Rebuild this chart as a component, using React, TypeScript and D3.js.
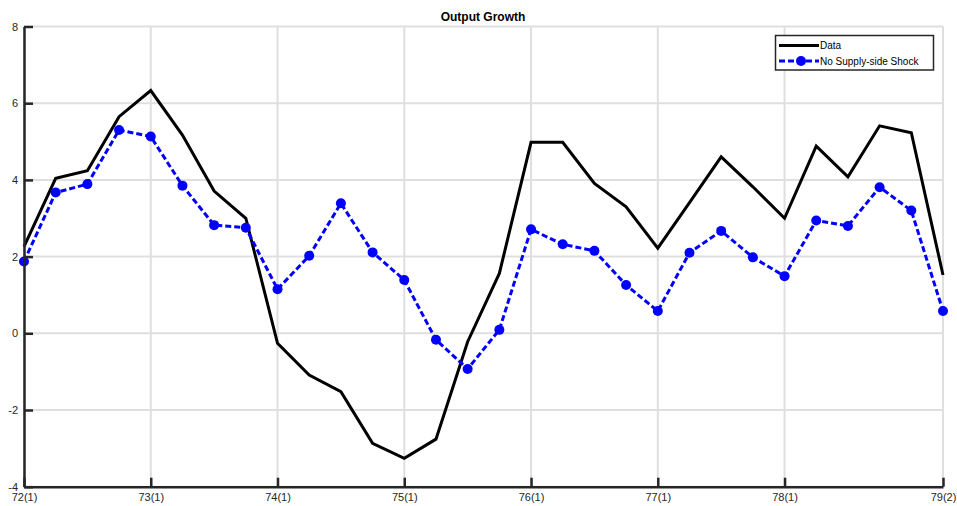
import React, { useEffect, useRef } from 'react';
import * as d3 from 'd3';

// quarterly labels 72(1) .. 79(2)
const quarters = d3.range(0, 30);
const tickQuarters = [0, 4, 8, 12, 16, 20, 24, 29];
const tickLabels = ['72(1)', '73(1)', '74(1)', '75(1)', '76(1)', '77(1)', '78(1)', '79(2)'];
const yTicks = [-4, -2, 0, 2, 4, 6, 8];

const dataSeries = [
  2.26, 4.04, 4.24, 5.65, 6.33, 5.17, 3.71, 3.0,
  -0.26, -1.09, -1.52, -2.87, -3.26, -2.76, -0.22, 1.56,
  4.98, 4.98, 3.91, 3.3, 2.22, 3.41, 4.6, 3.82,
  3.0, 4.88, 4.08, 5.41, 5.23, 1.52,
];
const noSupplyShock = [
  1.87, 3.67, 3.89, 5.3, 5.13, 3.85, 2.82, 2.75,
  1.15, 2.02, 3.39, 2.11, 1.39, -0.17, -0.93, 0.09,
  2.71, 2.32, 2.15, 1.26, 0.58, 2.1, 2.67, 1.98,
  1.49, 2.94, 2.8, 3.81, 3.2, 0.58,
];

const W = 957;
const H = 506;
const font = 'Liberation Sans, Arial, sans-serif';

const OutputChart = () => {
  const ref = useRef(null);

  useEffect(() => {
    const svg = d3.select(ref.current);
    svg.selectAll('*').remove();

    const x = d3.scaleLinear().domain([0, 29]).range([24, 943]);
    const y = d3.scaleLinear().domain([-4, 8]).range([486.7, 26.5]);
    const axisColor = '#262626';

    // grid
    const grid = svg.append('g').attr('stroke', '#dfdfdf').attr('stroke-width', 2);
    grid.selectAll('line.v').data(tickQuarters).enter().append('line')
      .attr('x1', d => x(d)).attr('x2', d => x(d))
      .attr('y1', y(8)).attr('y2', y(-4));
    grid.selectAll('line.h').data(yTicks).enter().append('line')
      .attr('x1', x(0)).attr('x2', x(29))
      .attr('y1', d => y(d)).attr('y2', d => y(d));

    // lines
    const line = d3.line<number>().x((d, i) => x(quarters[i])).y(d => y(d));

    svg.append('path')
      .datum(dataSeries)
      .attr('d', line)
      .attr('fill', 'none')
      .attr('stroke', '#000')
      .attr('stroke-width', 3)
      .attr('stroke-linejoin', 'miter');

    svg.append('path')
      .datum(noSupplyShock)
      .attr('d', line)
      .attr('fill', 'none')
      .attr('stroke', '#0000ff')
      .attr('stroke-width', 3)
      .attr('stroke-dasharray', '6,3');

    svg.append('g').selectAll('circle')
      .data(noSupplyShock)
      .enter().append('circle')
      .attr('cx', (d, i) => x(quarters[i]))
      .attr('cy', d => y(d))
      .attr('r', 5)
      .attr('fill', '#0000ff');

    // axes (left and bottom only, ticks pointing inward)
    const xAxis = svg.append('g').attr('transform', `translate(0,${y(-4)})`)
      .call(d3.axisBottom(x).tickValues(tickQuarters)
        .tickFormat((d, i) => tickLabels[i]).tickSizeInner(-9).tickSizeOuter(0).tickPadding(7));
    xAxis.select('.domain').attr('stroke', axisColor).attr('stroke-width', 2.5);
    xAxis.selectAll('.tick line').attr('stroke', axisColor).attr('stroke-width', 2.5);
    xAxis.selectAll('text').attr('fill', axisColor).style('font-family', font).style('font-size', '11px');

    const yAxis = svg.append('g').attr('transform', `translate(${x(0)},0)`)
      .call(d3.axisLeft(y).tickValues(yTicks).tickFormat(d => String(d))
        .tickSizeInner(-9).tickSizeOuter(0).tickPadding(6));
    yAxis.select('.domain').attr('stroke', axisColor).attr('stroke-width', 2.5);
    yAxis.selectAll('.tick line').attr('stroke', axisColor).attr('stroke-width', 2.5);
    yAxis.selectAll('text').attr('fill', axisColor).style('font-family', font).style('font-size', '11px');

    // title
    svg.append('text')
      .attr('x', 483).attr('y', 21)
      .attr('text-anchor', 'middle')
      .style('font-family', font).style('font-size', '12px').style('font-weight', 'bold')
      .text('Output Growth');

    // legend
    const lg = svg.append('g');
    lg.append('rect').attr('x', 775.5).attr('y', 35.5).attr('width', 158).attr('height', 34.5)
      .attr('fill', '#fff').attr('stroke', axisColor).attr('stroke-width', 1.5);
    lg.append('line').attr('x1', 779).attr('x2', 819).attr('y1', 45.5).attr('y2', 45.5)
      .attr('stroke', '#000').attr('stroke-width', 3);
    lg.append('line').attr('x1', 779).attr('x2', 819).attr('y1', 61).attr('y2', 61)
      .attr('stroke', '#0000ff').attr('stroke-width', 3).attr('stroke-dasharray', '6,3');
    lg.append('circle').attr('cx', 801).attr('cy', 61).attr('r', 5).attr('fill', '#0000ff');
    lg.append('text').attr('x', 820).attr('y', 49).style('font-family', font).style('font-size', '10px')
      .attr('fill', '#000').text('Data');
    lg.append('text').attr('x', 820).attr('y', 64.5).style('font-family', font).style('font-size', '10px')
      .attr('fill', '#000').text('No Supply-side Shock');
  }, []);

  return <svg ref={ref} width={W} height={H} style={{ display: 'block', background: '#fff' }}></svg>;
};

export default function App() {
  return (
    <div style={{ position: 'absolute', left: 0, top: 0 }}>
      <OutputChart />
    </div>
  );
}
